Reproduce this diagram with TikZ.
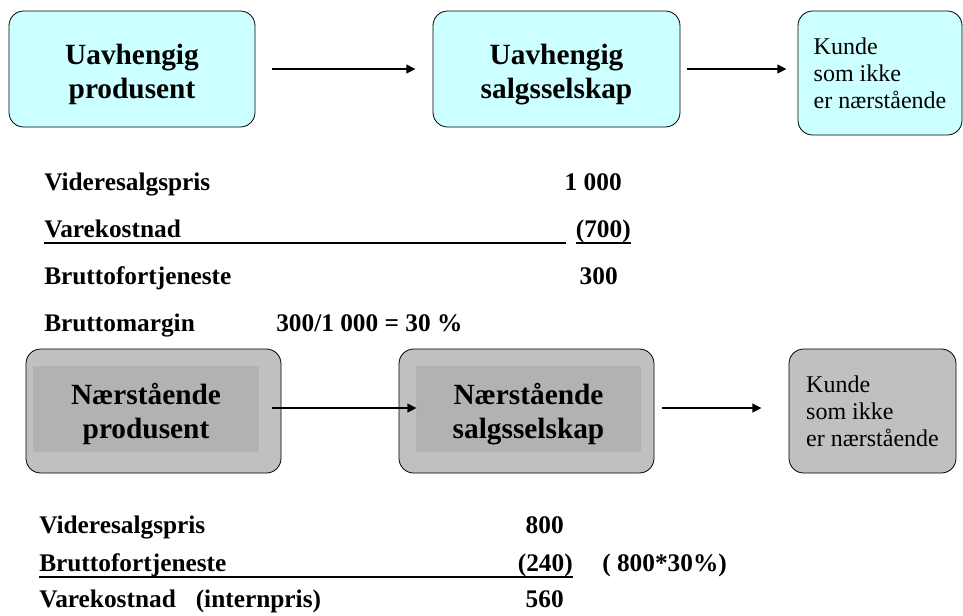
\documentclass[tikz,border=0pt]{standalone}
\usepackage{fontspec}
\setmainfont{Liberation Serif}
\usepackage{tikz}
\usetikzlibrary{arrows.meta}
\definecolor{lightcyan}{RGB}{204,255,255}
\definecolor{outergray}{RGB}{192,192,192}
\definecolor{innergray}{RGB}{178,178,178}
\tikzstyle{firm} = [rectangle, rounded corners=11pt, draw=black, line width=0.6pt,
    minimum width=184.5pt, minimum height=87pt, align=center, fill=lightcyan,
    font=\bfseries\fontsize{22}{25.5}\selectfont]
\tikzstyle{customer} = [rectangle, rounded corners=11pt, draw=black, line width=0.6pt,
    minimum width=123pt, minimum height=93pt, align=left, fill=lightcyan,
    font=\fontsize{18}{20.25}\selectfont]
\tikzstyle{relfirm} = [rectangle, rounded corners=11pt, draw=black, line width=0.6pt,
    minimum width=191.25pt, minimum height=93pt, fill=outergray]
\tikzstyle{relinner} = [rectangle, minimum height=64.5pt, align=center, fill=innergray,
    font=\bfseries\fontsize{22}{25.5}\selectfont]
\tikzstyle{lbl} = [inner sep=0pt, font=\bfseries\fontsize{19}{22}\selectfont]
\tikzstyle{arrow} = [line width=1.5pt, -{Triangle[length=7pt,width=6.5pt]}]
\tikzstyle{uline} = [line width=1.5pt]

\begin{document}
\begin{tikzpicture}[x=0.75pt,y=-0.75pt]
    \useasboundingbox (0,0) rectangle (963,615);

    % independent parties
    \node (up) [firm] at (132,69) {\rule{0pt}{23pt}Uavhengig\\produsent};
    \node (us) [firm, minimum width=185.25pt] at (556.5,69) {\rule{0pt}{23pt}Uavhengig\\salgsselskap};
    \node (uk) [customer] at (880,73) {Kunde\\som ikke\\er nærstående};

    \draw [arrow, shorten <=12.75pt, shorten >=12.75pt] (up.east) -- (us.west);
    \draw [arrow, shorten <=5.25pt, shorten >=8.25pt] (us.east) -- (uk.west |- us.east);

    \node (vsp1) [lbl, anchor=base west] at (44,190) {Videresalgspris};
    \node (vsp1v) [lbl, anchor=base east] at (622,190) {1 000};
    \node (vk1) [lbl, anchor=base west] at (44,237) {Varekostnad};
    \node (vk1v) [lbl, anchor=base east] at (631,237) {(700)};
    \node (bf1) [lbl, anchor=base west] at (44,284) {Bruttofortjeneste};
    \node (bf1v) [lbl, anchor=base east] at (618,284) {300};
    \node (bm1) [lbl, anchor=base west] at (44,331) {Bruttomargin};
    \node (bm1v) [lbl, anchor=base west] at (276,331) {300/1 000 = 30 \%};
    \draw [uline] ([yshift=-4.5pt]vk1.base west) -- (566,243);
    \draw [uline] ([yshift=-4.5pt]vk1v.base west) -- ([yshift=-4.5pt]vk1v.base east);

    % related parties
    \node (np) [relfirm] at (153.5,411) {};
    \node (npi) [relinner, minimum width=169.5pt] at (146,409) {\rule{0pt}{23pt}Nærstående\\produsent};
    \node (ns) [relfirm] at (526.5,411) {};
    \node (nsi) [relinner, minimum width=168.75pt] at (528.5,409) {\rule{0pt}{23pt}Nærstående\\salgsselskap};
    \node (nk) [customer, fill=outergray, minimum width=125.25pt] at (872.5,411)
        {Kunde\\som ikke\\er nærstående};

    \draw [arrow, shorten <=-6.75pt, shorten >=-13.5pt] ([yshift=2.25pt]np.east) -- ([yshift=2.25pt]ns.west);
    \draw [arrow, shorten <=6pt, shorten >=20.25pt] ([yshift=2.25pt]ns.east) -- ([yshift=2.25pt]nk.west);

    \node (vsp2) [lbl, anchor=base west] at (39,533) {Videresalgspris};
    \node (vsp2v) [lbl, anchor=base east] at (564,533) {800};
    \node (bf2) [lbl, anchor=base west] at (39,571) {Bruttofortjeneste};
    \node (bf2v) [lbl, anchor=base east] at (573,571) {(240)};
    \node (bf2n) [lbl, anchor=base west] at (602,571) {( 800*30\%)};
    \node (vk2) [lbl, anchor=base west] at (39,607) {Varekostnad\hspace{15pt}(internpris)};
    \node (vk2v) [lbl, anchor=base east] at (564,607) {560};
    \draw [uline] ([yshift=-4.5pt]bf2.base west) -- ([yshift=-4.5pt]bf2v.base east);
\end{tikzpicture}
\end{document}
